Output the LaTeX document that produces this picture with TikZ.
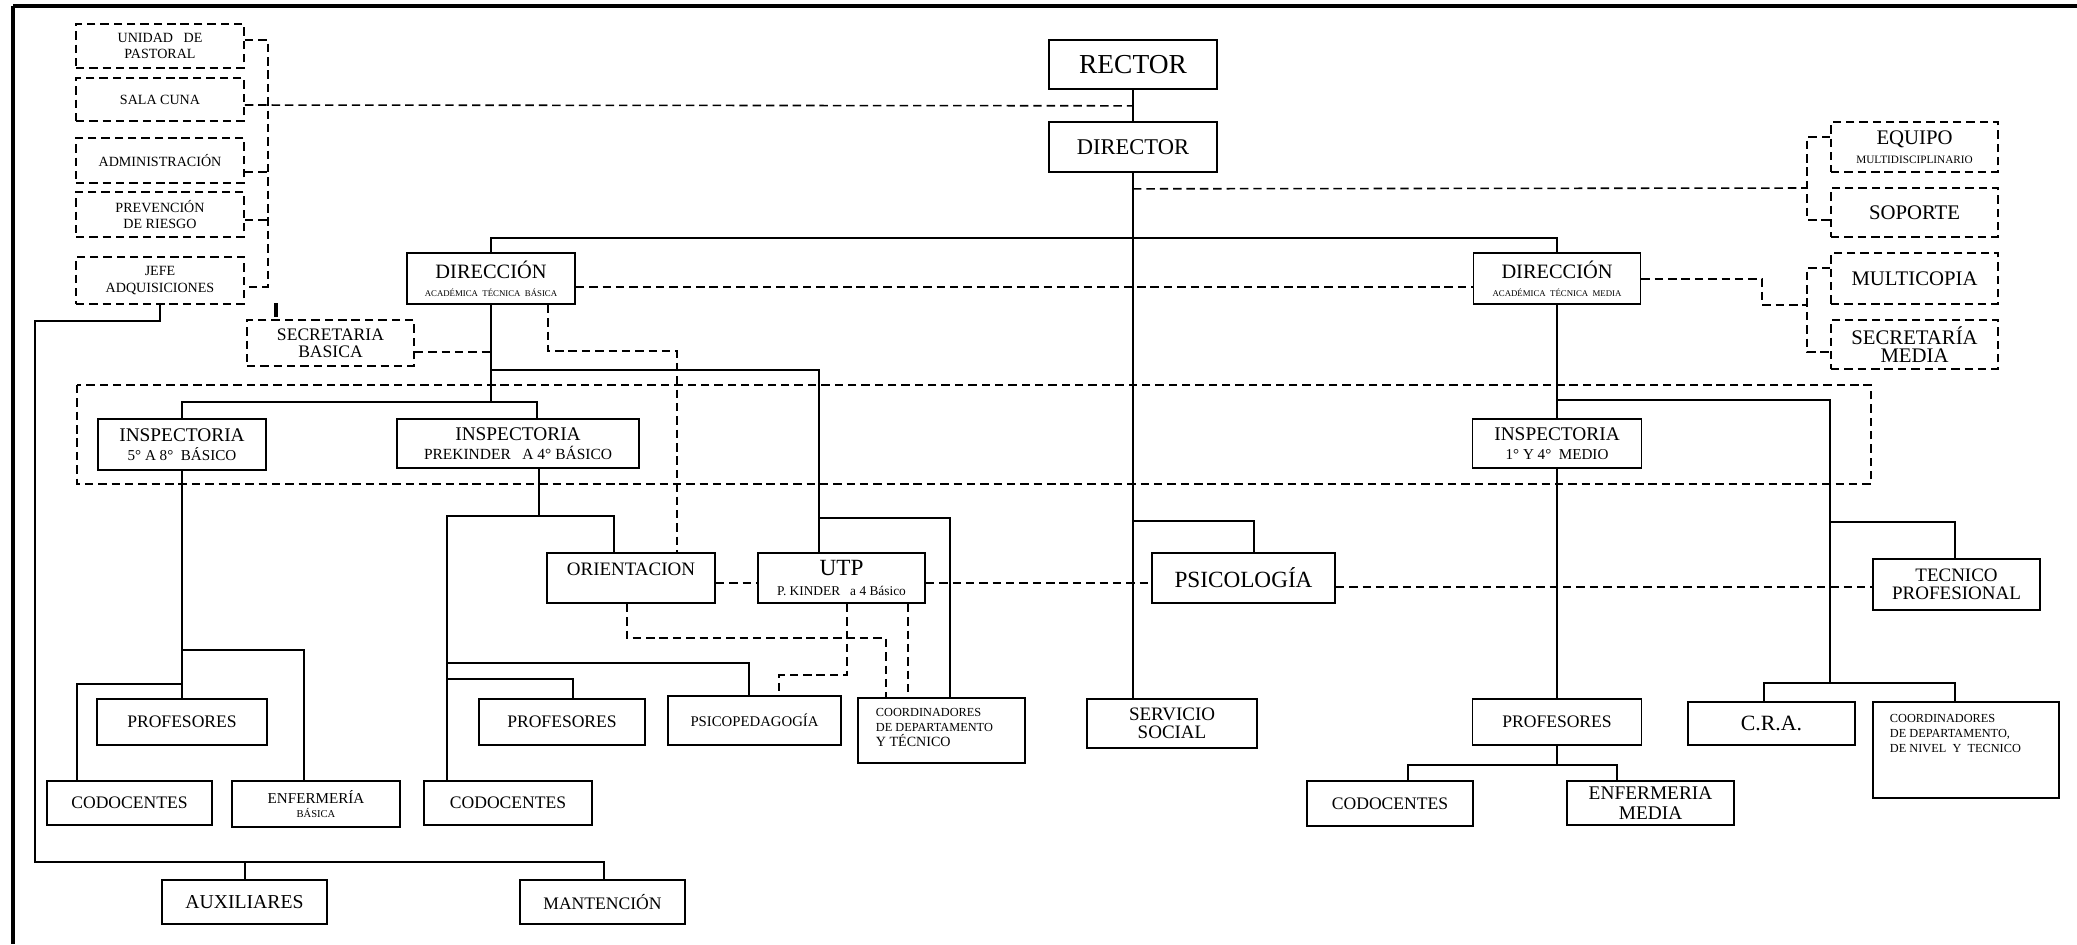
\documentclass[tikz,border=0pt]{standalone}
\usepackage{fontspec}
\setmainfont{Liberation Serif}
\usetikzlibrary{positioning,calc}

\begin{document}
\begin{tikzpicture}[x=0.01cm,y=-0.01cm,line width=0.45pt,
        unit/.style={rectangle,draw=black,align=center,inner sep=1pt},
        dashunit/.style={unit,dash pattern=on 2.4pt off 1.4pt},
        dashline/.style={dash pattern=on 2.4pt off 1.4pt},
        txt78/.style={font=\fontsize{7.8}{9}\selectfont},
        txt64/.style={font=\fontsize{6.4}{7.4}\selectfont},
        txt58/.style={font=\fontsize{5.8}{5.2}\selectfont},
        txt55/.style={font=\fontsize{5.5}{5.6}\selectfont},
        txt50/.style={font=\fontsize{5}{4.8}\selectfont},
        txt40/.style={font=\fontsize{4}{4.6}\selectfont},
        txt35/.style={font=\fontsize{3.5}{4.3}\selectfont}]
        \useasboundingbox (0,0) rectangle (2077,944);
        \draw[line width=1pt] (13,6) -- (2077,6);
        \draw[line width=1.4pt] (13,6) -- (13,944);

        \node[unit,txt78,minimum width=1.68cm,minimum height=0.49cm] (rector) at (1133,64.5) {RECTOR};
        \node[unit,txt64,minimum width=1.68cm,minimum height=0.5cm] (director) at (1133,147) {DIRECTOR};

        \node[dashunit,txt40,minimum width=1.68cm,minimum height=0.44cm] (pastoral) at (160,46) {UNIDAD\ \ \ DE\\PASTORAL};
        \node[dashunit,txt40,minimum width=1.68cm,minimum height=0.43cm] (salacuna) at (160,99.5) {SALA CUNA};
        \node[dashunit,txt40,minimum width=1.68cm,minimum height=0.45cm] (admin) at (160,160.5) {ADMINISTRACIÓN};
        \node[dashunit,txt40,minimum width=1.68cm,minimum height=0.45cm] (prevencion) at (160,214.5) {PREVENCIÓN\\DE RIESGO};
        \node[dashunit,txt40,minimum width=1.68cm,minimum height=0.47cm] (jefe) at (160,280.5) {JEFE\\ADQUISICIONES};

        \node[dashunit,font=\fontsize{5.9}{5.4}\selectfont,minimum width=1.67cm,minimum height=0.5cm] (equipo) at (1914.5,147) {EQUIPO\\{\fontsize{3.2}{3.6}\selectfont MULTIDISCIPLINARIO}};
        \node[dashunit,font=\fontsize{5.9}{6}\selectfont,minimum width=1.67cm,minimum height=0.49cm] (soporte) at (1914.5,212.5) {SOPORTE};
        \node[dashunit,font=\fontsize{5.9}{6}\selectfont,minimum width=1.67cm,minimum height=0.51cm] (multicopia) at (1914.5,278.5) {MULTICOPIA};
        \node[dashunit,font=\fontsize{5.9}{5.2}\selectfont,minimum width=1.67cm,minimum height=0.49cm] (secmedia) at (1914.5,344.5) {SECRETARÍA\\MEDIA};

        \node[unit,txt58,minimum width=1.68cm,minimum height=0.51cm] (dirbasica) at (491,278.5) {DIRECCIÓN\\{\fontsize{2.5}{3}\selectfont ACADÉMICA\ \ TÉCNICA\ \ BÁSICA}};
        \node[unit,txt58,minimum width=1.67cm,minimum height=0.51cm] (dirmedia) at (1557,278.5) {DIRECCIÓN\\{\fontsize{2.5}{3}\selectfont ACADÉMICA\ \ TÉCNICA\ \ MEDIA}};
        \node[dashunit,txt50,minimum width=1.67cm,minimum height=0.46cm] (secbasica) at (330.5,343) {SECRETARIA\\BASICA};

        \node[unit,txt55,minimum width=1.68cm,minimum height=0.51cm] (insp58) at (182,444.5) {INSPECTORIA\\{\fontsize{4.3}{5}\selectfont 5° A 8°\ \ BÁSICO}};
        \node[unit,txt55,minimum width=2.42cm,minimum height=0.49cm] (insppk) at (518,443.5) {INSPECTORIA\\{\fontsize{4.4}{5}\selectfont PREKINDER\ \ \ A 4° BÁSICO}};
        \node[unit,txt55,minimum width=1.69cm,minimum height=0.49cm] (inspmedio) at (1557,443.5) {INSPECTORIA\\{\fontsize{4.3}{5}\selectfont 1° Y 4°\ \ MEDIO}};

        \node[unit,font=\fontsize{5.4}{6}\selectfont,text depth=5.1pt,minimum width=1.68cm,minimum height=0.5cm] (orientacion) at (631,578) {ORIENTACION};
        \node[unit,font=\fontsize{6.6}{5.8}\selectfont,minimum width=1.67cm,minimum height=0.5cm] (utp) at (841.5,578) {UTP\\{\fontsize{3.8}{4.5}\selectfont P. KINDER\ \ \ a 4 Básico}};
        \node[unit,font=\fontsize{6.6}{7}\selectfont,minimum width=1.83cm,minimum height=0.5cm] (psicologia) at (1243.5,578) {PSICOLOGÍA};
        \node[unit,font=\fontsize{5.4}{5.2}\selectfont,minimum width=1.67cm,minimum height=0.51cm] (tecnico) at (1956.5,584.5) {TECNICO\\PROFESIONAL};

        \node[unit,txt50,minimum width=1.70cm,minimum height=0.46cm] (profbas) at (182,722) {PROFESORES};
        \node[unit,txt50,minimum width=1.66cm,minimum height=0.46cm] (profpk) at (562,722) {PROFESORES};
        \node[unit,font=\fontsize{4.2}{5}\selectfont,minimum width=1.73cm,minimum height=0.49cm] (psicoped) at (754.5,720.5) {PSICOPEDAGOGÍA};
        \node[unit,minimum width=1.67cm,minimum height=0.65cm] (coordtec) at (941.5,730.5) {};
        \node[txt35,anchor=north west,align=left,inner sep=0pt] (coordtec-text) at ($(coordtec.north west)+(18,10)$) {COORDINADORES\\DE DEPARTAMENTO\\{\fontsize{4}{4.3}\selectfont Y TÉCNICO}};
        \node[unit,font=\fontsize{5.4}{5.1}\selectfont,minimum width=1.70cm,minimum height=0.49cm] (servicio) at (1172,723.5) {SERVICIO\\SOCIAL};
        \node[unit,txt50,minimum width=1.69cm,minimum height=0.46cm] (profmedia) at (1557,722) {PROFESORES};
        \node[unit,font=\fontsize{6.2}{7}\selectfont,minimum width=1.67cm,minimum height=0.43cm] (cra) at (1771.5,723.5) {C.R.A.};
        \node[unit,minimum width=1.86cm,minimum height=0.96cm] (coordnivel) at (1966,750) {};
        \node[txt35,anchor=north west,align=left,inner sep=0pt] (coordnivel-text) at ($(coordnivel.north west)+(17,12)$) {COORDINADORES\\DE DEPARTAMENTO,\\DE NIVEL\ \ Y\ \ TECNICO};

        \node[unit,txt50,minimum width=1.65cm,minimum height=0.44cm] (codbas) at (129.5,803) {CODOCENTES};
        \node[unit,font=\fontsize{4.3}{4.2}\selectfont,minimum width=1.68cm,minimum height=0.46cm] (enfbas) at (316,804) {ENFERMERÍA\\{\fontsize{3}{3.5}\selectfont BÁSICA}};
        \node[unit,txt50,minimum width=1.68cm,minimum height=0.44cm] (codpk) at (508,803) {CODOCENTES};
        \node[unit,txt50,minimum width=1.66cm,minimum height=0.45cm] (codmedia) at (1390,803.5) {CODOCENTES};
        \node[unit,txt55,minimum width=1.67cm,minimum height=0.44cm] (enfmedia) at (1650.5,803) {ENFERMERIA\\MEDIA};
        \node[unit,font=\fontsize{5.6}{6}\selectfont,minimum width=1.65cm,minimum height=0.44cm] (auxiliares) at (244.5,902) {AUXILIARES};
        \node[unit,txt50,minimum width=1.65cm,minimum height=0.44cm] (mantencion) at (602.5,902) {MANTENCIÓN};

        \draw (rector) -- (director);
        \draw (director.south) -- (director.south |- servicio.north);
        \draw (dirbasica.north) |- ($(director.south)+(0,65)$) -| (dirmedia.north);
        \draw (dirbasica.south) -- ++(0,97) coordinate (insp-fork);
        \draw (insp58.north) |- (insp-fork) -| ($(insppk.north)+(19,0)$);
        \draw ($(dirbasica.south)+(0,65)$) -| ($(utp.north)+(-22.5,0)$);
        \draw ($(utp.north)+(-22.5,-34)$) -| ($(coordtec.north)+(8.5,0)$);
        \draw (insp58.south) -- (profbas.north);
        \draw ($(insp58.south)+(0,179)$) -| ($(enfbas.north)+(-12,0)$);
        \draw ($(insp58.south)+(0,213)$) -| ($(codbas.north)+(-52.5,0)$);
        \draw ($(insppk.south)+(21,0)$) -- ++(0,47) coordinate (pk-fork);
        \draw ($(codpk.north)+(-61,0)$) |- (pk-fork) -| ($(orientacion.north)+(-17,0)$);
        \draw ($(codpk.north)+(-61,-117)$) -| ($(psicoped.north)+(-5.5,0)$);
        \draw ($(codpk.north)+(-61,-101)$) -| ($(profpk.north)+(11,0)$);
        \draw ($(director.south)+(0,348)$) -| ($(psicologia.north)+(10.5,0)$);
        \draw (dirmedia.south) -- (inspmedio.north);
        \draw (inspmedio.south) -- (profmedia.north);
        \coordinate (cra-fork) at (1830,683);
        \draw ($(inspmedio.north)+(0,-18)$) -| (cra-fork);
        \draw ($(cra.north)+(-7.5,0)$) |- (cra-fork) -| ($(coordnivel.north)+(-11,0)$);
        \draw ($(cra-fork)+(0,-161)$) -| ($(tecnico.north)+(-1.5,0)$);
        \draw (profmedia.south) -- ++(0,19) coordinate (med-fork);
        \draw ($(codmedia.north)+(18,0)$) |- (med-fork) -| ($(enfmedia.north)+(-33.5,0)$);
        \draw (jefe.south) -- ++(0,16) -| ($(auxiliares.north)+(-209.5,-17)$) -| ($(mantencion.north)+(1.5,0)$);
        \draw ($(auxiliares.north)+(0.5,0)$) -- ++(0,-17);

        \draw[dashline] ($(pastoral.east)+(0,-6)$) -- ++(23,0) |- ($(jefe.east)+(0,6.5)$);
        \draw[dashline] ($(admin.east)+(0,11.5)$) -- ++(23,0);
        \draw[dashline] ($(prevencion.east)+(0,5.5)$) -- ++(23,0);
        \draw[dashline] ($(salacuna.east)+(0,5.5)$) -- ($(rector.south)+(0,16)$);
        \draw[dashline] ($(director.south)+(0,16)$) -- ($(equipo.west)+(-23,41)$);
        \draw[dashline] ($(equipo.west)+(0,-10)$) -- ++(-23,0) |- ($(soporte.west)+(0,7.5)$);
        \draw[dashline] ($(dirbasica.east)+(0,8.5)$) -- ($(dirmedia.west)+(0,8.5)$);
        \draw[dashline] ($(dirmedia.east)+(0,0.5)$) -| ($(multicopia.west)+(-68,26.5)$) -- ($(multicopia.west)+(-23,26.5)$);
        \draw[dashline] ($(multicopia.west)+(0,-10.5)$) -- ++(-23,0) |- ($(secmedia.west)+(0,7.5)$);
        \draw[dashline] ($(secbasica.east)+(0,9)$) -- ($(secbasica.east -| dirbasica.south)+(0,9)$);
        \draw[dashline] ($(dirbasica.south)+(57,0)$) |- ($(orientacion.north)+(46,-201)$) -- ($(orientacion.north)+(46,0)$);
        \draw[dashline] (77,385) rectangle (1871,484);
        \draw[dashline] ($(orientacion.east)+(0,5)$) -- ($(utp.west)+(0,5)$);
        \draw[dashline] ($(utp.east)+(0,5)$) -- ($(psicologia.west)+(0,5)$);
        \draw[dashline] ($(psicologia.east)+(0,9)$) -- ($(tecnico.west)+(0,2.5)$);
        \draw[dashline] ($(orientacion.south)+(-4,0)$) |- ($(coordtec.north)+(-55.5,-59)$) -- ($(coordtec.north)+(-55.5,0)$);
        \draw[dashline] ($(utp.south)+(5.5,0)$) |- ($(psicoped.north)+(24.5,-20)$) -- ($(psicoped.north)+(24.5,0)$);
        \draw[dashline] ($(utp.south)+(66.5,0)$) -- ($(utp.south |- coordtec.north)+(66.5,0)$);
        \draw[line width=1pt] ($(secbasica.north)+(-54.5,-16)$) -- ($(secbasica.north)+(-54.5,-2)$);
    \end{tikzpicture}
\end{document}
